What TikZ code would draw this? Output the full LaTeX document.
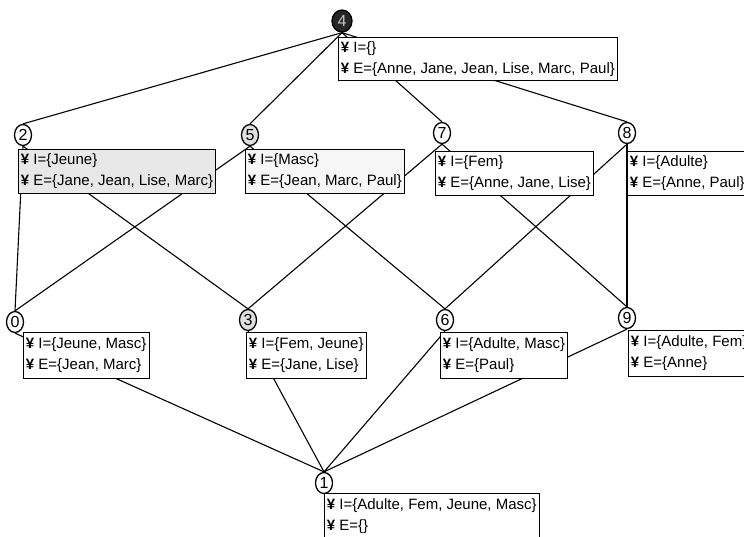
\documentclass[tikz,border=0pt]{standalone}
\usepackage{fontspec}
\setmainfont{Liberation Sans}
\usetikzlibrary{shapes.geometric}
\pgfdeclarelayer{bg}
\pgfsetlayers{bg,main}
\newcommand{\yb}{\textbf{¥}}
\begin{document}
\begin{tikzpicture}[x=1pt,y=-1pt,
  vtx/.style={ellipse,draw,line width=1.3pt,fill=white,minimum width=17pt,minimum height=21pt,inner sep=0pt,font=\fontsize{16}{16}\selectfont},
  lbl/.style={rectangle,draw,line width=0.9pt,fill=white,anchor=north west,align=left,inner xsep=2.5pt,inner ysep=0pt,font=\fontsize{15}{21}\selectfont},
  link/.style={line width=1.1pt}]
\useasboundingbox (0,0) rectangle (744,536);

% concept boxes
\node[lbl,minimum height=43pt] (b4) at (338,37) {\yb\ I=\{\}\\\yb\ E=\{Anne, Jane, Jean, Lise, Marc, Paul\}};
\node[lbl,minimum height=44pt,fill=gray!18] (b2) at (18,149) {\yb\ I=\{Jeune\}\\\yb\ E=\{Jane, Jean, Lise, Marc\}};
\node[lbl,minimum height=44pt,fill=gray!7] (b5) at (245,149) {\yb\ I=\{Masc\}\\\yb\ E=\{Jean, Marc, Paul\}};
\node[lbl,minimum height=44pt] (b7) at (435,151) {\yb\ I=\{Fem\}\\\yb\ E=\{Anne, Jane, Lise\}};
\node[lbl,minimum height=44pt] (b8) at (627,151) {\yb\ I=\{Adulte\}\\\yb\ E=\{Anne, Paul\}};
\node[lbl,minimum height=46pt] (b0) at (23,332) {\yb\ I=\{Jeune, Masc\}\\\yb\ E=\{Jean, Marc\}};
\node[lbl,minimum height=46pt] (b3) at (246,332) {\yb\ I=\{Fem, Jeune\}\\\yb\ E=\{Jane, Lise\}};
\node[lbl,minimum height=46pt] (b6) at (440,332) {\yb\ I=\{Adulte, Masc\}\\\yb\ E=\{Paul\}};
\node[lbl,minimum height=46pt] (b9) at (628,330) {\yb\ I=\{Adulte, Fem\}\\\yb\ E=\{Anne\}};
\node[lbl,minimum height=46pt] (b1) at (324,493) {\yb\ I=\{Adulte, Fem, Jeune, Masc\}\\\yb\ E=\{\}};

% vertices
\node[vtx,fill=black!85,text=gray!45,minimum width=20pt,minimum height=22pt] (n4) at (342,21) {4};
\node[vtx] (n2) at (23,135) {2};
\node[vtx,fill=gray!25] (n5) at (250,135) {5};
\node[vtx] (n7) at (442,133) {7};
\node[vtx] (n8) at (627,133) {8};
\node[vtx] (n0) at (15,322) {0};
\node[vtx,fill=gray!25] (n3) at (248,320) {3};
\node[vtx] (n6) at (445,320) {6};
\node[vtx] (n9) at (627,318) {9};
\node[vtx] (n1) at (324,483) {1};

\begin{pgfonlayer}{bg}
\foreach \p/\c in {n4/n2,n4/n5,n4/n7,n4/n8,
                   n2/n0,n2/n3,n5/n0,n5/n6,n7/n3,n7/n9,n8/n6,n8/n9,
                   n0/n1,n3/n1,n6/n1,n9/n1}
  \draw[link] (\p.south) -- (\c.north);
\end{pgfonlayer}
\end{tikzpicture}
\end{document}
